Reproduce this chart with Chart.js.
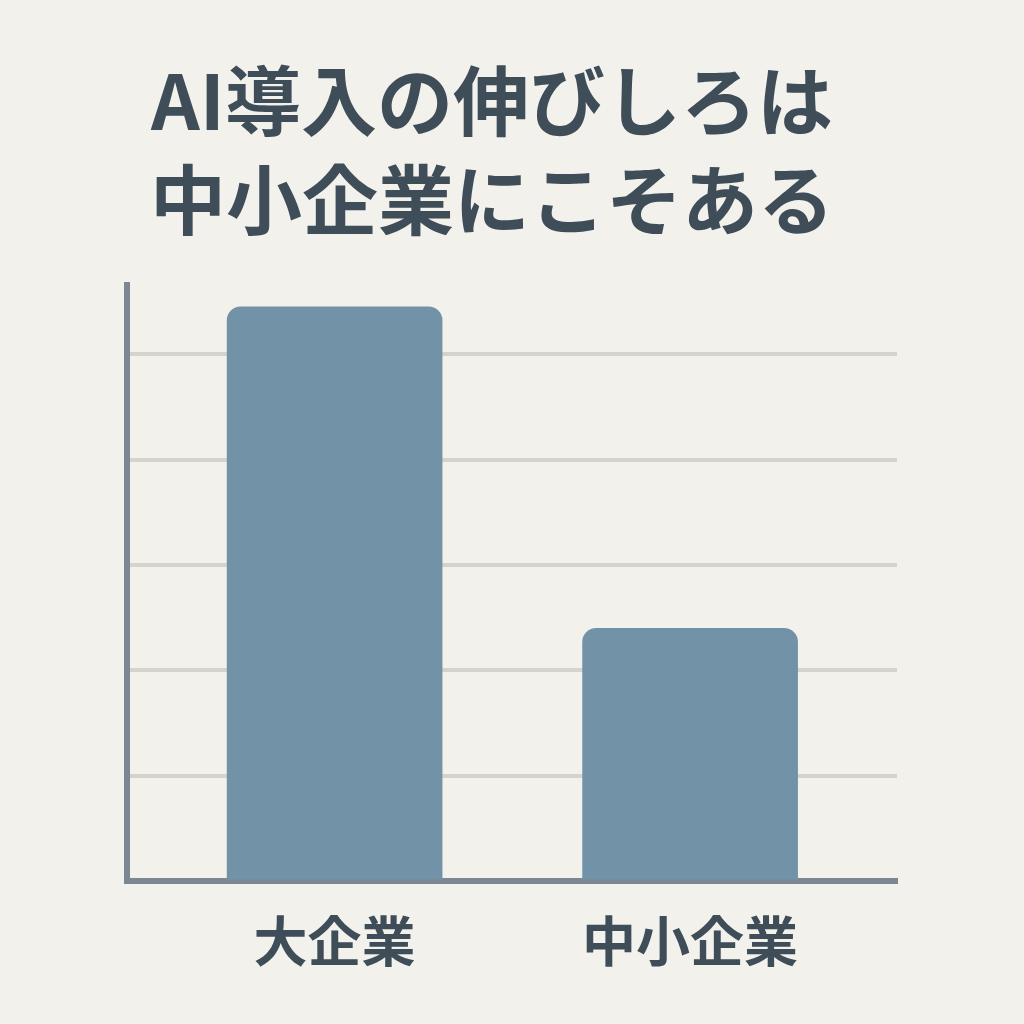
<!DOCTYPE html>
<html lang="ja">
<head>
<meta charset="utf-8">
<script src="https://cdn.jsdelivr.net/npm/chart.js@4"></script>
<style>
  html, body { margin: 0; padding: 0; background: #f3f1ec; }
  #wrap { position: absolute; left: 0; top: 0; width: 984px; height: 1024px; }
</style>
</head>
<body>
<div id="wrap"><canvas id="chart"></canvas></div>
<script>
// タイトルと項目
const titleLines = ['AI導入の伸びしろは', '中小企業にこそある'];
const categories = ['大企業', '中小企業'];
const adoptionValues = [54.5, 24];
const gridTicks = [10, 20, 30, 40, 50];

const INK = '#3f4d59';
const BAR = '#7292a7';
const AXIS = '#7b8891';
const GRID = '#d5d3ce';
const FONT = '"Noto Sans CJK JP", "Noto Sans", sans-serif';

const ctx = document.getElementById('chart').getContext('2d');
new Chart(ctx, {
    type: 'bar',
    data: {
        datasets: [{
            data: categories.map((c, i) => ({ x: i, y: adoptionValues[i] })),
            backgroundColor: BAR,
            borderRadius: { topLeft: 14, topRight: 14 },
            borderSkipped: 'bottom',
            barThickness: 215
        }]
    },
    options: {
        responsive: true, maintainAspectRatio: false, animation: false,
        layout: { padding: { left: 87, right: 87, top: 0, bottom: 30 } },
        plugins: {
            legend: { display: false },
            tooltip: { enabled: false },
            title: {
                display: true, text: titleLines, color: INK,
                font: { family: FONT, size: 76, weight: '700', lineHeight: 1.3 },
                padding: { top: 52, bottom: 35 }
            }
        },
        scales: {
            x: {
                type: 'linear', min: -0.584, max: 1.582, offset: false,
                afterBuildTicks: axis => { axis.ticks = categories.map((c, i) => ({ value: i })); },
                grid: { display: false, offset: false },
                border: { display: true, color: AXIS, width: 6 },
                ticks: {
                    callback: v => categories[v], color: INK, padding: 20,
                    font: { family: FONT, size: 54, weight: '700' }
                }
            },
            y: {
                min: 0, max: 56.6,
                afterBuildTicks: axis => { axis.ticks = [0, ...gridTicks].map(v => ({ value: v })); },
                afterFit: axis => { axis.width = 40; },
                grid: {
                    color: c => (c.tick && c.tick.value > 0 ? GRID : 'rgba(0,0,0,0)'),
                    lineWidth: 4, drawTicks: false
                },
                border: { display: true, color: AXIS, width: 6 },
                ticks: { display: false }
            }
        }
    }
});
</script>
</body>
</html>
